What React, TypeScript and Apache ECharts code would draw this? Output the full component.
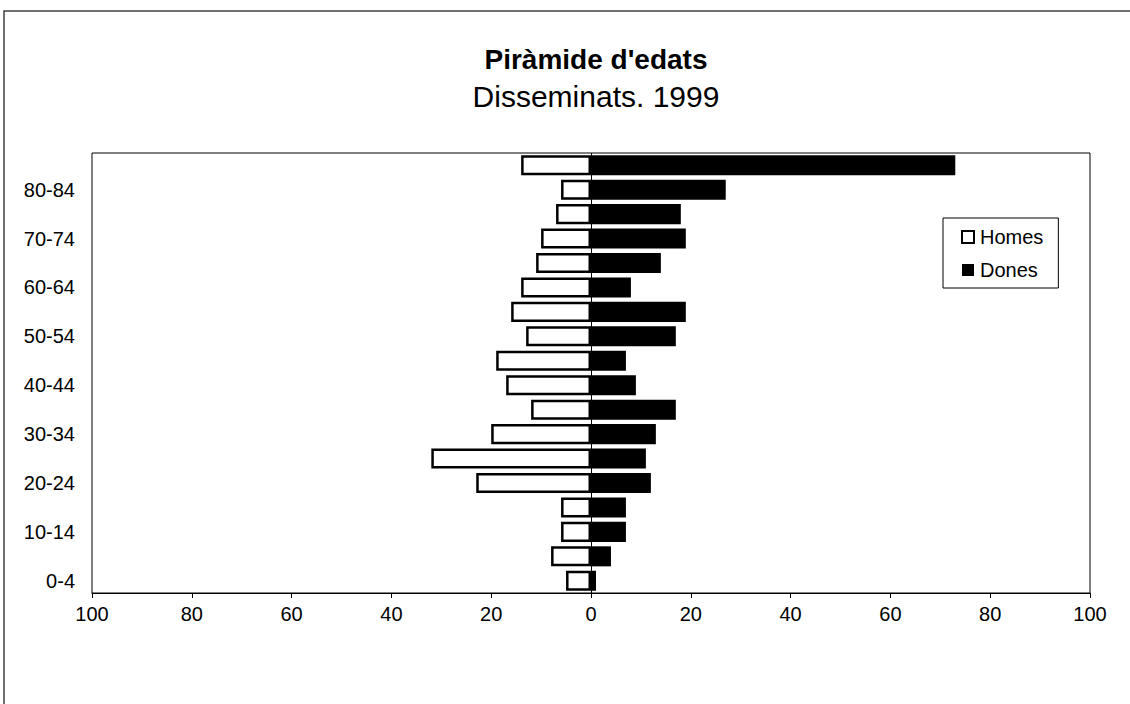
import React, { useEffect, useRef } from "react";
import * as echarts from "echarts";

const categories = [
  "0-4", "5-9", "10-14", "15-19", "20-24", "25-29", "30-34", "35-39", "40-44",
  "45-49", "50-54", "55-59", "60-64", "65-69", "70-74", "75-79", "80-84", "85+",
];
const homes = [5, 8, 6, 6, 23, 32, 20, 12, 17, 19, 13, 16, 14, 11, 10, 7, 6, 14];
const dones = [1, 4, 7, 7, 12, 11, 13, 17, 9, 7, 17, 19, 8, 14, 19, 18, 27, 73];
const xTicks = { min: -100, max: 100, interval: 20 };

const FONT = "'Liberation Sans', Arial, sans-serif";

export default function App() {
  const ref = useRef<HTMLDivElement>(null);
  useEffect(() => {
    if (!ref.current) return;
    const chart = echarts.init(ref.current, undefined, { renderer: "svg" });
    chart.setOption({
      animation: false,
      backgroundColor: "#fff",
      textStyle: { fontFamily: FONT, color: "#000" },
      title: {
        text: "Piràmide d'edats",
        subtext: "Disseminats. 1999",
        left: 591,
        textAlign: "center",
        top: 40,
        itemGap: 8,
        textStyle: { fontFamily: FONT, fontSize: 28, fontWeight: "bold", color: "#000" },
        subtextStyle: { fontFamily: FONT, fontSize: 30, color: "#000" },
      },
      graphic: [
        {
          type: "rect",
          shape: { x: 4, y: 11, width: 1200, height: 800 },
          style: { fill: "none", stroke: "#404040", lineWidth: 1.5 },
          silent: true,
        },
      ],
      legend: {
        orient: "vertical",
        left: 943,
        top: 218,
        data: [
          { name: "Homes", icon: "rect" },
          { name: "Dones", icon: "rect" },
        ],
        borderColor: "#000",
        borderWidth: 1,
        padding: [9, 15, 8, 18],
        itemGap: 13,
        itemWidth: 12,
        itemHeight: 12,
        textStyle: { fontFamily: FONT, fontSize: 20, color: "#000", padding: [0, 0, 0, 1] },
      },
      grid: {
        left: 92,
        right: 40,
        top: 153,
        bottom: 111,
        show: true,
        borderColor: "#000",
        borderWidth: 1,
        backgroundColor: "#fff",
      },
      xAxis: {
        type: "value",
        min: xTicks.min,
        max: xTicks.max,
        interval: xTicks.interval,
        axisLine: { show: true, lineStyle: { color: "#000", width: 1 } },
        axisTick: { show: true, length: 5, lineStyle: { color: "#000" } },
        splitLine: { show: false },
        axisLabel: {
          fontFamily: FONT,
          fontSize: 20,
          color: "#000",
          margin: 11,
          formatter: (v: number) => String(Math.abs(v)),
        },
      },
      yAxis: {
        type: "category",
        data: categories,
        axisLine: { show: false },
        axisTick: { show: false },
        axisLabel: { interval: 1, fontFamily: FONT, fontSize: 20, color: "#000", margin: 17 },
      },
      series: [
        {
          name: "Homes",
          type: "bar",
          stack: "pyr",
          barCategoryGap: "18%",
          data: homes.map((v) => -v),
          itemStyle: { color: "#fff", borderColor: "#000", borderWidth: 2.5 },
        },
        {
          name: "Dones",
          type: "bar",
          stack: "pyr",
          barCategoryGap: "18%",
          data: dones,
          itemStyle: { color: "#000" },
          markLine: {
            silent: true,
            symbol: ["none", "none"],
            label: { show: false },
            lineStyle: { color: "#000", width: 1, type: "solid" },
            data: [{ xAxis: 0 }],
          },
        },
      ],
    });
    return () => chart.dispose();
  }, []);
  return (
    <div
      ref={ref}
      style={{ position: "absolute", left: 0, top: 0, width: 1130, height: 704 }}
    />
  );
}
